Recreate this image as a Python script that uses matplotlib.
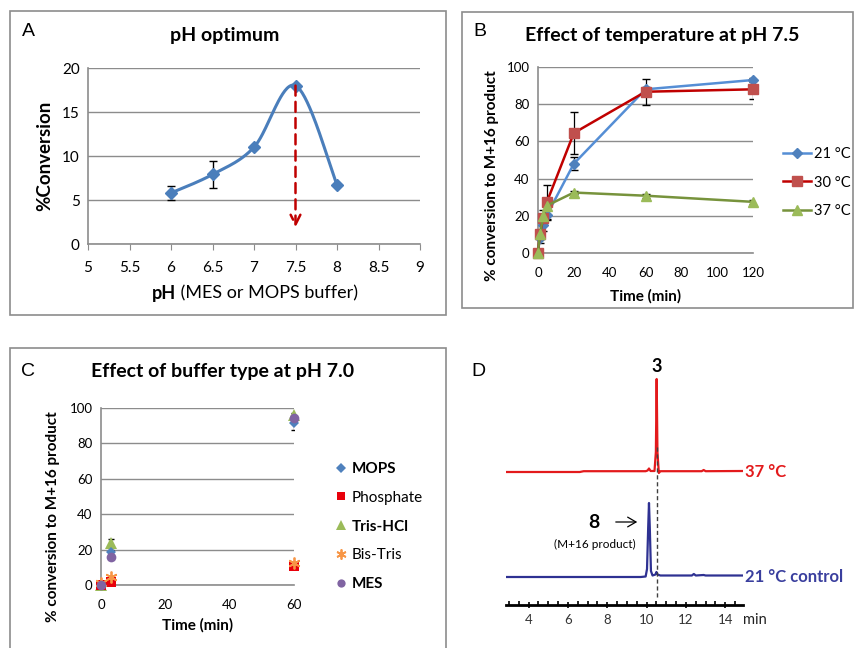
import numpy as np
import matplotlib
matplotlib.use("Agg")
import matplotlib.pyplot as plt
from matplotlib.patches import Rectangle, FancyArrowPatch

plt.rcParams['font.family'] = ['Lato', 'DejaVu Sans']

# ---- data ----
# A: pH optimum
ph = [6, 6.5, 7, 7.5, 8]
ph_conv = [5.8, 7.9, 11.0, 18.0, 6.7]
ph_err = [0.8, 1.5, 0.0, 0.0, 0.0]

# B: temperature series
t_b = [0, 1, 3, 5, 20, 60, 120]
temp_labels = ['21 °C', '30 °C', '37 °C']
conv_21 = [0, 8, 15, 20.5, 48, 88, 93]
conv_30 = [0, 10, 19, 27.5, 64.5, 86.7, 88]
conv_37 = [0, 10, 20, 25.5, 32.5, 30.8, 27.5]
err_21 = [0, 2.5, 3, 2.5, 3.5, 1.5, 1]
err_30 = [0, 1.5, 4, 9, 11.5, 7, 5]
err_37 = [0, 1, 1, 1, 1, 1, 1]

# C: buffer types
t_c = [0, 3, 60]
buffers = ['MOPS', 'Phosphate', 'Tris-HCl', 'Bis-Tris', 'MES']
buf_bold = [True, False, True, False, True]
conv_mops = [0, 18.6, 91.5]
conv_phos = [0, 1.5, 10.8]
conv_tris = [0, 24, 96]
conv_bistris = [1, 4.8, 12.5]
conv_mes = [0, 16, 94.3]
err_mops = [0, 1, 4]
err_tris = [0, 2, 1]

# D: chromatograms (time in min, intensity a.u.)
red_t = [2.85, 6.6, 6.8, 9.95, 10.05, 10.12, 10.2, 10.4, 10.47, 10.51, 10.55, 10.62, 10.7, 12.8, 12.9, 13.0, 14.9]
red_i = [0, 0, 0.8, 0.8, 1.5, 3.5, 1.0, 1.0, 20, 93, 20, -1, 0.8, 0.8, 2, 0.8, 1.0]
blue_t = [2.85, 9.7, 9.95, 10.02, 10.08, 10.12, 10.16, 10.22, 10.3, 10.45, 10.5, 10.55, 10.7, 12.3, 12.4, 12.5, 12.9, 13.0, 14.9]
blue_i = [0, 0, 0.5, 8, 50, 74, 50, 6, 1.5, 2.5, 5, 2.5, 1.5, 1.5, 3, 1.5, 2, 1.5, 1.5]

W, H = 857, 648
GRID = '#8c8c8c'


def rect(l, t, r, b):
    return [l / W, 1 - b / H, (r - l) / W, (b - t) / H]


def fx(x):
    return x / W


def fy(y):
    return 1 - y / H


def style_excel(ax):
    for s in ['top', 'right']:
        ax.spines[s].set_visible(False)
    for s in ['left', 'bottom']:
        ax.spines[s].set_color(GRID)
        ax.spines[s].set_linewidth(1.2)
    ax.yaxis.grid(True, color=GRID, lw=1)
    ax.set_axisbelow(True)
    ax.tick_params(axis='y', length=0, pad=6)
    ax.tick_params(axis='x', length=0, pad=10)


def excel_smooth(ax, x, y, n=40):
    # Bezier smoothing (Excel style) done in display space
    pts = ax.transData.transform(np.column_stack([x, y]))
    out = []
    m = len(pts)
    for i in range(m - 1):
        p0 = pts[max(i - 1, 0)]
        p1 = pts[i]
        p2 = pts[i + 1]
        p3 = pts[min(i + 2, m - 1)]
        c1 = p1 + (p2 - p0) / 6
        c2 = p2 - (p3 - p1) / 6
        s = np.linspace(0, 1, n)[:, None]
        seg = (1 - s) ** 3 * p1 + 3 * (1 - s) ** 2 * s * c1 + 3 * (1 - s) * s ** 2 * c2 + s ** 3 * p2
        out.append(seg)
    out = np.vstack(out)
    return ax.transData.inverted().transform(out)


fig = plt.figure(figsize=(W / 100, H / 100), dpi=100)

# panel frames
fig.patches.append(Rectangle((fx(10), fy(315)), (446 - 10) / W, (315 - 11) / H, transform=fig.transFigure,
                             fill=False, ec=GRID, lw=1.2))
fig.patches.append(Rectangle((fx(462), fy(308)), (853 - 462) / W, (308 - 12) / H, transform=fig.transFigure,
                             fill=False, ec=GRID, lw=1.2))
fig.patches.append(Rectangle((fx(10), fy(660)), (446 - 10) / W, (660 - 348) / H, transform=fig.transFigure,
                             fill=False, ec=GRID, lw=1.2))

# ---------- A ----------
axA = fig.add_axes(rect(88, 68, 420, 244))
axA.set_xlim(5, 9)
axA.set_ylim(0, 20)
axA.set_xticks(np.arange(5, 9.01, 0.5))
axA.set_xticklabels(['5', '5.5', '6', '6.5', '7', '7.5', '8', '8.5', '9'])
axA.set_yticks([0, 5, 10, 15, 20])
style_excel(axA)
axA.tick_params(axis='x', length=4, color=GRID, direction='out', pad=8)
axA.tick_params(labelsize=11)
fig.canvas.draw()
sm = excel_smooth(axA, ph, ph_conv)
axA.plot(sm[:, 0], sm[:, 1], color='#4a7ebb', lw=2.2, zorder=3)
axA.errorbar(ph, ph_conv, yerr=ph_err, fmt='D', color='#4a7ebb', ms=6, ecolor='black',
             elinewidth=1, capsize=3, zorder=4)
axA.annotate('', xy=(7.5, 1.9), xytext=(7.5, 18),
             arrowprops=dict(arrowstyle='->,head_length=0.7,head_width=0.35', color='#c00000',
                             lw=1.8, linestyle=(0, (4, 2.5)), shrinkA=0, shrinkB=0), zorder=5)
axA.set_ylabel('%Conversion', fontsize=13.5, fontweight='bold', labelpad=6)
fig.text(fx(152), fy(293), 'pH', fontsize=13, fontweight='bold', va='center', ha='left')
fig.text(fx(176), fy(293), ' (MES or MOPS buffer)', fontsize=13, va='center', ha='left')
fig.text(fx(225), fy(36), 'pH optimum', fontsize=14, fontweight='bold', ha='center', va='center')
fig.text(fx(28), fy(32), 'A', fontsize=14, family='Liberation Sans', ha='center', va='center')

# ---------- B ----------
axB = fig.add_axes(rect(538, 67, 753, 253))
axB.set_xlim(0, 120)
axB.set_ylim(0, 100)
axB.set_xticks(np.arange(0, 121, 20))
axB.set_yticks(np.arange(0, 101, 20))
style_excel(axB)
axB.tick_params(labelsize=9.5)
series_b = [(conv_21, err_21, '#558ed5', '#4f81bd', 'D', 5),
            (conv_30, err_30, '#c00000', '#c0504d', 's', 6.5),
            (conv_37, err_37, '#77933c', '#9bbb59', '^', 6.5)]
handles = []
for (vals, errs, lc, mc, mk, ms), lab in zip(series_b, temp_labels):
    axB.errorbar(t_b, vals, yerr=errs, fmt='none', ecolor='black', elinewidth=0.9, capsize=3, zorder=3)
    ln, = axB.plot(t_b, vals, color=lc, lw=1.8, marker=mk, ms=ms, mfc=mc, mec=mc, zorder=4, clip_on=False)
    handles.append(ln)
axB.set_ylabel('% conversion to M+16 product', fontsize=11, fontweight='bold')
axB.yaxis.set_label_coords((499 - 538) / 215, (253 - 176) / 186)
axB.set_xlabel('Time (min)', fontsize=11, fontweight='bold', labelpad=7)
fig.text(fx(662), fy(36), 'Effect of temperature at pH 7.5', fontsize=14, fontweight='bold',
         ha='center', va='center')
fig.text(fx(480), fy(32), 'B', fontsize=14, family='Liberation Sans', ha='center', va='center')
fig.legend(handles, temp_labels, loc='upper left', bbox_to_anchor=(fx(783), fy(147)), frameon=False,
           fontsize=10.5, handlelength=1.9, handletextpad=0.25, labelspacing=1.0, borderpad=0,
           borderaxespad=0)

# ---------- C ----------
axC = fig.add_axes(rect(101, 408, 294, 585))
axC.set_xlim(0, 60)
axC.set_ylim(0, 100)
axC.set_xticks([0, 20, 40, 60])
axC.set_yticks(np.arange(0, 101, 20))
style_excel(axC)
axC.tick_params(labelsize=9.5)
series_c = [(conv_mops, err_mops, '#4f81bd', 'D', 5.5, 2),
            (conv_phos, None, '#e8000b', 's', 6.5, 3),
            (conv_tris, err_tris, '#9bbb59', '^', 8, 1),
            (conv_bistris, None, '#f79646', (6, 2, 0), 8.5, 4),
            (conv_mes, None, '#8064a2', 'o', 7, 5)]
handles_c = []
for vals, errs, col, mk, ms, z in series_c:
    if errs is not None:
        axC.errorbar(t_c, vals, yerr=errs, fmt='none', ecolor='black', elinewidth=0.9, capsize=2.5, zorder=z)
    kw = dict(mew=1.3) if mk == (6, 2, 0) else dict(mew=0)
    h, = axC.plot(t_c, vals, ls='none', marker=mk, ms=ms, color=col, mec=col, zorder=z + 2,
                  clip_on=False, **kw)
    handles_c.append(h)
axC.set_ylabel('% conversion to M+16 product', fontsize=11, fontweight='bold')
axC.yaxis.set_label_coords((60 - 101) / 193, (585 - 517) / 177)
axC.set_xlabel('Time (min)', fontsize=11, fontweight='bold', labelpad=5)
fig.text(fx(223), fy(372), 'Effect of buffer type at pH 7.0', fontsize=14, fontweight='bold',
         ha='center', va='center')
fig.text(fx(28), fy(372), 'C', fontsize=14, family='Liberation Sans', ha='center', va='center')
legC = fig.legend(handles_c, buffers, loc='upper left', bbox_to_anchor=(fx(333), fy(462)), frameon=False,
                  fontsize=11, handlelength=1.0, handletextpad=0.25, labelspacing=0.97, borderpad=0,
                  borderaxespad=0, markerscale=0.85)
for txt, b in zip(legC.get_texts(), buf_bold):
    if b:
        txt.set_fontweight('bold')

# ---------- D ----------
axD = fig.add_axes(rect(506, 360, 743, 605))
axD.set_xlim(2.85, 14.9)
axD.set_ylim(0, 245)
off_blue, off_red = 28, 133
for s in ['top', 'right', 'left']:
    axD.spines[s].set_visible(False)
axD.spines['bottom'].set_linewidth(2)
axD.set_yticks([])
axD.set_xticks([4, 6, 8, 10, 12, 14])
axD.set_xticks(np.arange(3, 15, 0.5), minor=True)
axD.tick_params(axis='x', which='major', length=5, width=1.2, direction='inout', labelsize=9.5,
                labelcolor='#333333', pad=4)
axD.tick_params(axis='x', which='minor', length=3, width=1.2, direction='in')
axD.plot(red_t, np.array(red_i) + off_red, color='#e31a1c', lw=1.6, zorder=3)
axD.plot(blue_t, np.array(blue_i) + off_blue, color='#2e3192', lw=1.6, zorder=3)
axD.plot([10.51, 10.51], [8, 158], color='#404040', lw=1, ls=(0, (3, 2)), zorder=4, clip_on=False)
fig.text(fx(657), fy(367), '3', fontsize=13, fontweight='bold', ha='center', va='center')
fig.text(fx(745), fy(472), '37 °C', fontsize=12, fontweight='bold', color='#e31a1c', ha='left', va='center')
fig.text(fx(745), fy(577), '21 °C control', fontsize=12, fontweight='bold', color='#3a3f9e',
         ha='left', va='center')
fig.text(fx(594), fy(523), '8', fontsize=14, fontweight='bold', ha='center', va='center')
fig.patches.append(FancyArrowPatch((fx(613), fy(522)), (fx(640), fy(522)), transform=fig.transFigure,
                                   arrowstyle='->,head_length=6,head_width=3.5', color='black', lw=0.9))
fig.text(fx(595), fy(544), '(M+16 product)', fontsize=8.5, ha='center', va='center')
fig.text(fx(743), fy(620), 'min', fontsize=10.5, ha='left', va='center', color='#222222')
fig.text(fx(478), fy(371), 'D', fontsize=14, family='Liberation Sans', ha='center', va='center')

fig.savefig('out.png', dpi=100)
